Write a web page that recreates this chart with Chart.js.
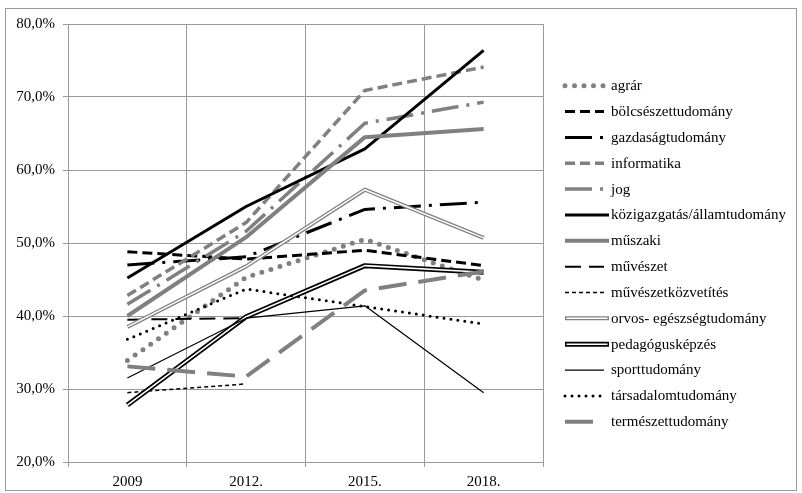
<!DOCTYPE html>
<html><head><meta charset="utf-8">
<script src="https://cdn.jsdelivr.net/npm/chart.js@4"></script>
<style>html,body{margin:0;padding:0;background:#fff}#wrap{width:802px;height:493px}</style>
</head><body><div id="wrap"><canvas id="c" width="802" height="493"></canvas></div>
<script>
// ---- data ----
const years = ['2009', '2012.', '2015.', '2018.'];
const yTicks = [20, 30, 40, 50, 60, 70, 80];
const seriesNames = ['agrár', 'bölcsészettudomány', 'gazdaságtudomány', 'informatika', 'jog',
  'közigazgatás/államtudomány', 'műszaki', 'művészet', 'művészetközvetítés',
  'orvos- egészségtudomány', 'pedagógusképzés', 'sporttudomány', 'társadalomtudomány', 'természettudomány'];
const agrar       = [33.9, 45.3, 50.5, 44.9];
const bolcsesz    = [48.8, 47.8, 49.0, 46.9];
const gazdasag    = [47.0, 48.1, 54.6, 55.6];
const informatika = [42.8, 52.8, 70.9, 74.1];
const jog         = [41.6, 51.6, 66.4, 69.3];
const kozig       = [45.2, 55.0, 62.9, 76.4];
const muszaki     = [40.0, 50.8, 64.5, 65.6];
const muveszet    = [39.5, 39.7, null, null];
const muvkozv     = [29.5, 30.7, null, null];
const orvos       = [38.5, 46.8, 57.3, 50.7];
const pedagogus   = [27.8, 39.9, 46.9, 46.0];
const sport       = [31.5, 39.7, 41.4, 29.5];
const tarsadalom  = [36.8, 43.7, 41.3, 38.9];
const termeszet   = [33.1, 31.7, 43.5, 46.1];
const seriesValues = [agrar, bolcsesz, gazdasag, informatika, jog, kozig, muszaki,
  muveszet, muvkozv, orvos, pedagogus, sport, tarsadalom, termeszet];

// ---- styles ----
const G = '#808080', K = '#000000';
const styles = [
  {c: G, w: 5, d: [0, 9.5], cap: 'round'},
  {c: K, w: 3, d: [10, 5]},
  {c: K, w: 3, d: [27, 8, 3, 8]},
  {c: G, w: 3.5, d: [10, 5]},
  {c: G, w: 3.5, d: [27, 8, 3, 8]},
  {c: K, w: 3, d: [], full: true},
  {c: G, w: 4, d: [], full: true},
  {c: K, w: 2, d: [16, 8]},
  {c: K, w: 1.5, d: [4, 3]},
  {c: G, w: 4, d: [], inner: 1.5, full: true},
  {c: K, w: 5, d: [], inner: 1.6, full: true},
  {c: K, w: 1.2, d: []},
  {c: K, w: 3, d: [0, 7], cap: 'round'},
  {c: G, w: 4, d: [28, 12]}
];

const N = seriesNames.length;
const datasets = [];
seriesNames.forEach((name, i) => {
  const s = styles[i];
  datasets.push({
    label: name, data: seriesValues[i], borderColor: s.c, backgroundColor: s.c,
    borderWidth: s.w, borderDash: s.d, borderCapStyle: s.cap || 'butt',
    borderJoinStyle: 'round', pointRadius: 0, fill: false, tension: 0,
    order: N - i
  });
  if (s.inner) {
    datasets.push({
      label: name + ' (inner)', data: seriesValues[i], borderColor: '#ffffff',
      borderWidth: s.inner, borderDash: [], pointRadius: 0, fill: false, tension: 0,
      borderJoinStyle: 'round', order: N - i - 0.5
    });
  }
});

const frame = {
  id: 'frame',
  beforeDraw(chart) {
    const ctx = chart.ctx;
    ctx.save();
    ctx.fillStyle = '#fff';
    ctx.fillRect(0, 0, chart.width, chart.height);
    ctx.strokeStyle = '#9a9a9a';
    ctx.lineWidth = 1;
    ctx.strokeRect(5.5, 8.5, 791, 482);
    ctx.restore();
  }
};

const customLegend = {
  id: 'customLegend',
  afterDraw(chart) {
    const ctx = chart.ctx;
    const x0 = 565, tx = 611, y0 = 85.7, dy = 25.85;
    ctx.save();
    seriesNames.forEach((name, i) => {
      const s = styles[i];
      const x1 = s.full ? 609 : 604;
      const y = y0 + i * dy;
      ctx.beginPath();
      ctx.strokeStyle = s.c;
      ctx.lineWidth = s.w;
      ctx.setLineDash(s.d);
      ctx.lineCap = s.cap || 'butt';
      ctx.moveTo(x0, y); ctx.lineTo(x1, y);
      ctx.stroke();
      if (s.inner) {
        ctx.beginPath();
        ctx.strokeStyle = '#fff';
        ctx.lineWidth = s.inner;
        ctx.setLineDash([]);
        ctx.moveTo(x0 + 1.5, y); ctx.lineTo(x1 - 1.5, y);
        ctx.stroke();
      }
      ctx.setLineDash([]);
      ctx.fillStyle = '#000';
      ctx.font = '15px "Liberation Serif"';
      ctx.textBaseline = 'middle';
      ctx.textAlign = 'left';
      ctx.fillText(name, tx, y + 0.5);
    });
    ctx.restore();
  }
};

const fontSpec = {family: '"Liberation Serif", "Times New Roman", serif', size: 15};
new Chart(document.getElementById('c'), {
  type: 'line',
  data: {labels: years, datasets: datasets},
  options: {
    responsive: false, animation: false, devicePixelRatio: 1,
    layout: {padding: {left: 0, top: 24, right: 259, bottom: 0}},
    plugins: {legend: {display: false}, tooltip: {enabled: false}},
    scales: {
      x: {
        offset: true,
        grid: {offset: true, color: '#9a9a9a', tickLength: 5, lineWidth: 1},
        border: {color: '#9a9a9a'},
        ticks: {color: '#000', font: fontSpec, padding: 6, maxRotation: 0, autoSkip: false},
        afterFit(s) { s.height = 31; }
      },
      y: {
        min: 20, max: 80,
        grid: {color: '#9a9a9a', tickLength: 5, lineWidth: 1},
        border: {color: '#9a9a9a'},
        afterBuildTicks(s) { s.ticks = yTicks.map(v => ({value: v})); },
        ticks: {color: '#000', font: fontSpec, padding: 8,
          callback: v => v.toFixed(1).replace('.', ',') + '%'},
        afterFit(s) { s.width = 68; }
      }
    }
  },
  plugins: [frame, customLegend]
});
</script>
</body></html>
